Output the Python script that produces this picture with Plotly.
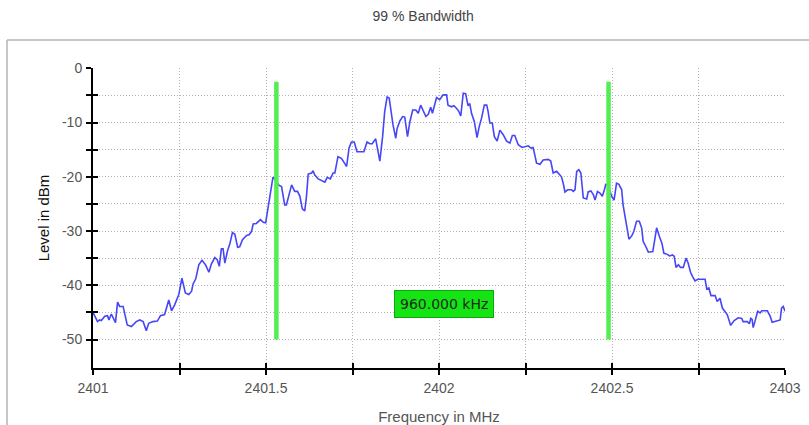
import plotly.graph_objects as go

# ---- data ----
freq_mhz = [
    2401.000, 2401.013, 2401.019, 2401.024, 2401.034, 2401.042, 2401.046, 2401.053, 2401.065, 2401.071,
    2401.077, 2401.087, 2401.099, 2401.111, 2401.125, 2401.135, 2401.145, 2401.154, 2401.161, 2401.173,
    2401.186, 2401.195, 2401.207, 2401.219, 2401.227, 2401.236, 2401.248, 2401.257, 2401.267, 2401.277,
    2401.285, 2401.289, 2401.297, 2401.306, 2401.315, 2401.325, 2401.335, 2401.342, 2401.352, 2401.359,
    2401.365, 2401.371, 2401.376, 2401.381, 2401.389, 2401.395, 2401.403, 2401.410, 2401.418, 2401.424,
    2401.432, 2401.444, 2401.451, 2401.458, 2401.463, 2401.472, 2401.484, 2401.492, 2401.499, 2401.506,
    2401.514, 2401.520, 2401.525, 2401.538, 2401.545, 2401.554, 2401.559, 2401.574, 2401.583, 2401.591,
    2401.598, 2401.605, 2401.612, 2401.617, 2401.622, 2401.632, 2401.636, 2401.641, 2401.651, 2401.665,
    2401.670, 2401.677, 2401.686, 2401.694, 2401.699, 2401.708, 2401.718, 2401.725, 2401.733, 2401.740,
    2401.747, 2401.755, 2401.763, 2401.783, 2401.792, 2401.800, 2401.807, 2401.817, 2401.821, 2401.829,
    2401.837, 2401.843, 2401.850, 2401.856, 2401.861, 2401.867, 2401.875, 2401.879, 2401.887, 2401.895,
    2401.901, 2401.909, 2401.916, 2401.924, 2401.933, 2401.940, 2401.947, 2401.954, 2401.962, 2401.969,
    2401.976, 2401.981, 2401.988, 2401.993, 2402.002, 2402.007, 2402.012, 2402.022, 2402.026, 2402.036,
    2402.043, 2402.051, 2402.057, 2402.063, 2402.070, 2402.077, 2402.081, 2402.084, 2402.089, 2402.094,
    2402.102, 2402.110, 2402.116, 2402.123, 2402.131, 2402.138, 2402.142, 2402.147, 2402.154, 2402.160,
    2402.168, 2402.176, 2402.186, 2402.195, 2402.205, 2402.212, 2402.219, 2402.229, 2402.240, 2402.248,
    2402.258, 2402.266, 2402.272, 2402.277, 2402.282, 2402.292, 2402.301, 2402.316, 2402.323, 2402.330,
    2402.340, 2402.347, 2402.354, 2402.359, 2402.364, 2402.372, 2402.383, 2402.388, 2402.393, 2402.398,
    2402.404, 2402.410, 2402.417, 2402.427, 2402.431, 2402.439, 2402.446, 2402.451, 2402.458, 2402.465,
    2402.472, 2402.478, 2402.482, 2402.488, 2402.499, 2402.506, 2402.513, 2402.520, 2402.528, 2402.532,
    2402.537, 2402.542, 2402.549, 2402.557, 2402.563, 2402.571, 2402.579, 2402.586, 2402.590, 2402.598,
    2402.605, 2402.618, 2402.624, 2402.629, 2402.637, 2402.644, 2402.650, 2402.660, 2402.666, 2402.675,
    2402.680, 2402.685, 2402.692, 2402.698, 2402.706, 2402.714, 2402.720, 2402.727, 2402.733, 2402.740,
    2402.748, 2402.756, 2402.769, 2402.774, 2402.780, 2402.786, 2402.798, 2402.804, 2402.812, 2402.819,
    2402.827, 2402.833, 2402.843, 2402.853, 2402.865, 2402.875, 2402.879, 2402.891, 2402.897, 2402.901,
    2402.905, 2402.908, 2402.913, 2402.921, 2402.928, 2402.933, 2402.949, 2402.957, 2402.963, 2402.976,
    2402.986, 2402.990, 2402.995, 2403.000,
]
level_dbm = [
    -45.0, -46.7, -46.4, -46.5, -45.7, -45.6, -46.4, -45.3, -46.9, -43.1,
    -43.9, -43.9, -47.3, -47.6, -46.7, -46.4, -46.7, -48.4, -47.0, -46.7,
    -46.6, -45.6, -45.4, -42.7, -44.7, -43.6, -41.7, -38.7, -41.4, -41.7,
    -41.1, -39.8, -38.8, -36.2, -35.4, -36.2, -37.6, -36.1, -34.9, -35.3,
    -36.5, -33.3, -33.3, -35.9, -33.6, -32.5, -30.3, -30.6, -33.0, -32.9,
    -31.6, -30.8, -30.7, -30.1, -28.7, -28.6, -27.9, -28.4, -28.5, -25.8,
    -22.1, -20.1, -20.4, -21.6, -21.8, -25.2, -25.2, -21.5, -22.7, -22.7,
    -23.6, -25.9, -26.3, -23.6, -19.5, -19.3, -18.9, -19.7, -20.4, -20.9,
    -21.0, -20.1, -20.4, -19.3, -19.3, -16.3, -16.6, -17.3, -18.1, -14.7,
    -13.6, -13.6, -15.4, -15.4, -13.6, -13.9, -13.9, -13.0, -14.4, -17.1,
    -12.6, -8.0, -5.3, -5.5, -7.7, -10.4, -12.9, -11.1, -9.7, -8.9,
    -9.0, -12.6, -9.8, -7.7, -7.7, -8.3, -6.8, -7.9, -8.9, -8.5,
    -7.2, -8.3, -6.4, -5.4, -5.8, -5.3, -4.9, -4.9, -6.8, -7.1,
    -6.9, -7.4, -7.9, -8.8, -4.6, -4.7, -6.1, -6.9, -6.5, -8.3,
    -9.8, -12.8, -10.8, -9.2, -6.8, -6.8, -8.0, -10.1, -10.1, -12.6,
    -13.4, -11.4, -12.3, -13.4, -13.8, -12.4, -12.4, -14.1, -14.6, -14.5,
    -14.3, -14.7, -14.6, -16.0, -17.5, -17.7, -16.9, -16.8, -17.1, -19.3,
    -19.0, -19.5, -20.0, -21.2, -22.8, -22.4, -22.4, -22.7, -22.4, -19.0,
    -18.7, -19.3, -23.9, -24.1, -22.8, -22.6, -23.3, -24.3, -22.7, -23.0,
    -23.6, -22.4, -21.4, -21.5, -23.6, -24.3, -21.2, -21.4, -22.4, -25.2,
    -27.3, -28.5, -31.5, -30.9, -30.1, -28.2, -28.2, -29.5, -31.9, -32.9,
    -33.9, -33.8, -31.0, -29.4, -31.0, -32.2, -34.1, -34.3, -34.6, -34.4,
    -34.7, -36.7, -36.2, -36.7, -36.7, -35.0, -35.9, -37.6, -38.4, -39.2,
    -38.9, -38.9, -38.9, -40.7, -40.5, -41.9, -41.9, -43.0, -42.4, -44.2,
    -44.8, -45.4, -47.4, -46.5, -46.0, -46.1, -46.7, -46.7, -47.1, -46.1,
    -46.3, -47.8, -46.7, -44.8, -45.1, -44.7, -44.7, -45.7, -46.8, -46.5,
    -46.4, -44.2, -43.9, -44.8,
]

bw_lower_mhz = 2401.530
bw_upper_mhz = 2402.490
bw_marker_bottom = -50.0
bw_marker_top = -2.5
bw_label = "960.000 kHz"
bw_label_pos = (2402.013, -43.5)

x_tickvals = [2401.0, 2401.25, 2401.5, 2401.75, 2402.0, 2402.25, 2402.5, 2402.75, 2403.0]
x_ticktext = ["2401", "", "2401.5", "", "2402", "", "2402.5", "", "2403"]
y_tickvals = [0, -5, -10, -15, -20, -25, -30, -35, -40, -45, -50]
y_ticktext = ["0", "", "-10", "", "-20", "", "-30", "", "-40", "", "-50"]

x_range = [2401.0, 2403.0]
y_range = [-55.25, 0.05]

title_text = "99 % Bandwidth"
x_title = "Frequency in MHz"
y_title = "Level in dBm"

# ---- figure ----
fig = go.Figure()

fig.add_trace(go.Scatter(
    x=freq_mhz, y=level_dbm, mode="lines",
    line=dict(color="#4646f8", width=1.6),
    hoverinfo="skip", showlegend=False,
))

fig.add_trace(go.Scatter(
    x=[bw_lower_mhz, bw_lower_mhz, None, bw_upper_mhz, bw_upper_mhz],
    y=[bw_marker_bottom, bw_marker_top, None, bw_marker_bottom, bw_marker_top],
    mode="lines", line=dict(color="#52ee52", width=4.5),
    hoverinfo="skip", showlegend=False,
))

# invisible trace on overlay axes (inside half of the crossing ticks)
fig.add_trace(go.Scatter(
    x=[x_range[0]], y=[y_range[0]], xaxis="x2", yaxis="y2",
    mode="markers", marker=dict(opacity=0), hoverinfo="skip", showlegend=False,
))

FONT = "Liberation Sans, Arial, sans-serif"
tick_font = dict(family=FONT, size=14, color="#555555")
grid_kw = dict(showgrid=True, gridcolor="#b4b4b4", griddash="1px,2px", gridwidth=1)

W, H = 809, 425
L, R, T, B = 93, 24, 68, 57
plot_w, plot_h = W - L - R, H - T - B

fig.update_layout(
    width=W, height=H,
    margin=dict(l=L, r=R, t=T, b=B, autoexpand=False),
    paper_bgcolor="white", plot_bgcolor="white",
    title=dict(text=title_text, x=0.523, xanchor="center", y=1 - 16 / H, yanchor="middle",
               font=dict(family=FONT, size=14, color="#444444")),
    xaxis=dict(
        range=x_range, tickvals=x_tickvals, ticktext=x_ticktext, automargin=False,
        ticks="outside", ticklen=5, tickwidth=2, tickcolor="black",
        ticklabelstandoff=1,
        showline=True, linecolor="black", linewidth=2,
        zeroline=False, tickfont=tick_font, **grid_kw,
        title=dict(text=x_title, standoff=20,
                   font=dict(family=FONT, size=15, color="#555555")),
    ),
    yaxis=dict(
        range=y_range, tickvals=y_tickvals, ticktext=y_ticktext, automargin=False,
        ticks="outside", ticklen=5, tickwidth=2, tickcolor="black",
        ticklabelstandoff=1,
        showline=True, linecolor="black", linewidth=2,
        zeroline=False, tickfont=tick_font, **grid_kw,
        title=dict(text=y_title, standoff=9,
                   font=dict(family=FONT, size=15, color="#111111")),
    ),
    xaxis2=dict(
        range=x_range, overlaying="x", side="bottom", anchor="y", automargin=False,
        tickvals=x_tickvals, ticks="inside", ticklen=5, tickwidth=2, tickcolor="black",
        showticklabels=False, showgrid=False, zeroline=False, showline=False,
    ),
    yaxis2=dict(
        range=y_range, overlaying="y", side="left", anchor="x", automargin=False,
        tickvals=y_tickvals, ticks="inside", ticklen=5, tickwidth=2, tickcolor="black",
        showticklabels=False, showgrid=False, zeroline=False, showline=False,
    ),
    shapes=[
        # light grey container frame (top and left edges)
        dict(type="line", xref="paper", yref="paper",
             x0=(7 - L) / plot_w, x1=(W - L) / plot_w,
             y0=(H - B - 40) / plot_h, y1=(H - B - 40) / plot_h,
             line=dict(color="#b4b4b4", width=1.5), layer="below"),
        dict(type="line", xref="paper", yref="paper",
             x0=(7 - L) / plot_w, x1=(7 - L) / plot_w,
             y0=-B / plot_h, y1=(H - B - 40) / plot_h,
             line=dict(color="#b4b4b4", width=1.5), layer="below"),
    ],
    annotations=[
        dict(x=bw_label_pos[0], y=bw_label_pos[1], xref="x", yref="y",
             text=bw_label, showarrow=False,
             font=dict(family="DejaVu Sans, sans-serif", size=14, color="#1e2a1e"),
             bgcolor="#14e414", bordercolor="#0aa80a", borderwidth=1, borderpad=5),
    ],
)

fig.write_html("out.html", config={"displayModeBar": False},
               post_script="document.body.style.margin='0';")
